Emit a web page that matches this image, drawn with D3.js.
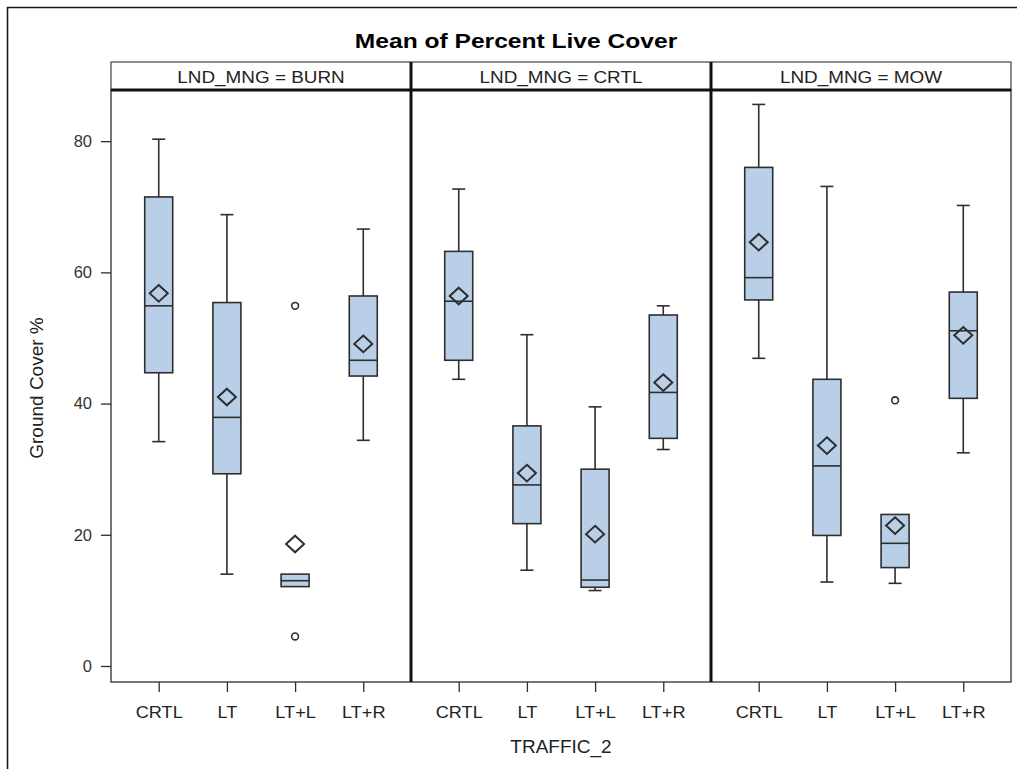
<!DOCTYPE html>
<html>
<head>
<meta charset="utf-8">
<script src="https://cdn.jsdelivr.net/npm/d3@7"></script>
<style>
  body { margin: 0; background: #fff; }
  svg { display: block; }
  text { font-family: "Liberation Sans", Arial, Helvetica, sans-serif; fill: #222; }
</style>
</head>
<body>
<svg id="chart" width="1017" height="769"></svg>
<script>
// Land management panels and traffic levels
const landMgmt = ["BURN", "CRTL", "MOW"];
const traffic = ["CRTL", "LT", "LT+L", "LT+R"];

// Box statistics, one entry per box, ordered BURN x4, CRTL x4, MOW x4
const whiskerLow  = [34.2, 14.0, 12.1, 34.4,  43.7, 14.6, 11.5, 33.0,  46.9, 12.8, 12.6, 32.5];
const q1          = [44.7, 29.3, 12.1, 44.2,  46.6, 21.7, 12.0, 34.7,  55.8, 19.9, 15.0, 40.8];
const median      = [54.9, 37.9, 13.0, 46.6,  55.6, 27.6, 13.1, 41.7,  59.2, 30.5, 18.7, 51.1];
const q3          = [71.5, 55.4, 14.0, 56.4,  63.2, 36.6, 30.0, 53.5,  76.0, 43.7, 23.1, 57.0];
const whiskerHigh = [80.3, 68.8, 14.0, 66.6,  72.7, 50.5, 39.5, 54.9,  85.6, 73.1, 23.1, 70.2];
const means       = [56.8, 41.0, 18.6, 49.1,  56.4, 29.4, 20.1, 43.2,  64.6, 33.6, 21.4, 50.4];

// Outlying observations
const outlierMgmt = ["BURN", "BURN", "MOW"];
const outlierTraffic = ["LT+L", "LT+L", "LT+L"];
const outlierValue = [54.9, 4.5, 40.5];

const yTicks = [0, 20, 40, 60, 80];
const yDomain = [-2.44, 87.8];

const boxes = whiskerLow.map((lo, i) => ({
  mgmt: landMgmt[Math.floor(i / traffic.length)],
  traffic: traffic[i % traffic.length],
  lo, q1: q1[i], med: median[i], q3: q3[i], hi: whiskerHigh[i], mean: means[i]
}));
const outliers = outlierValue.map((v, i) => ({ mgmt: outlierMgmt[i], traffic: outlierTraffic[i], v }));

const svg = d3.select("#chart");
const ink = "#2e2e2e";
const fill = "#b9cfe8";

const plot = { left: 111, right: 1011, top: 90, bottom: 682, headerTop: 62 };

const panelX = d3.scaleBand().domain(landMgmt).range([plot.left, plot.right]);
const innerX = d3.scalePoint().domain(traffic).range([0, panelX.bandwidth()]).padding(0.7);
const y = d3.scaleLinear().domain(yDomain).range([plot.bottom, plot.top]);

const boxW = 28, capW = 13;

// Outer border of the graph
svg.append("path")
  .attr("d", `M7.5,${769}V7.5H${1017}`)
  .attr("fill", "none").attr("stroke", "#1a1a1a").attr("stroke-width", 1.6);

// Title
svg.append("text")
  .attr("transform", "translate(516,48) scale(1.2,1)")
  .attr("text-anchor", "middle")
  .attr("font-size", 20.5).attr("font-weight", "bold").style("fill", "#000")
  .text("Mean of Percent Live Cover");

// Panel headers
const header = svg.append("g");
header.append("rect")
  .attr("x", plot.left).attr("y", plot.headerTop)
  .attr("width", plot.right - plot.left).attr("height", plot.top - plot.headerTop)
  .attr("fill", "#fff").attr("stroke", "#444").attr("stroke-width", 1.2);
header.selectAll("text").data(landMgmt).join("text")
  .attr("transform", d => `translate(${panelX(d) + panelX.bandwidth() / 2},83) scale(1.16,1)`)
  .attr("text-anchor", "middle").attr("font-size", 16.3)
  .text(d => `LND_MNG = ${d}`);

// Boxes
const panels = svg.selectAll("g.panel").data(landMgmt).join("g")
  .attr("class", "panel")
  .attr("transform", d => `translate(${panelX(d)},0)`);

const box = panels.selectAll("g.box")
  .data(m => boxes.filter(b => b.mgmt === m))
  .join("g").attr("class", "box")
  .attr("transform", d => `translate(${innerX(d.traffic)},0)`);

box.filter(d => d.hi > d.q3).append("line")
  .attr("y1", d => y(d.q3)).attr("y2", d => y(d.hi))
  .attr("stroke", ink).attr("stroke-width", 1.6);
box.filter(d => d.hi > d.q3).append("line")
  .attr("x1", -capW / 2).attr("x2", capW / 2)
  .attr("y1", d => y(d.hi)).attr("y2", d => y(d.hi))
  .attr("stroke", ink).attr("stroke-width", 1.6);
box.filter(d => d.lo < d.q1).append("line")
  .attr("y1", d => y(d.q1)).attr("y2", d => y(d.lo))
  .attr("stroke", ink).attr("stroke-width", 1.6);
box.filter(d => d.lo < d.q1).append("line")
  .attr("x1", -capW / 2).attr("x2", capW / 2)
  .attr("y1", d => y(d.lo)).attr("y2", d => y(d.lo))
  .attr("stroke", ink).attr("stroke-width", 1.6);

box.append("rect")
  .attr("x", -boxW / 2).attr("width", boxW)
  .attr("y", d => y(d.q3)).attr("height", d => y(d.q1) - y(d.q3))
  .attr("fill", fill).attr("stroke", ink).attr("stroke-width", 1.6);
box.append("line")
  .attr("x1", -boxW / 2).attr("x2", boxW / 2)
  .attr("y1", d => y(d.med)).attr("y2", d => y(d.med))
  .attr("stroke", ink).attr("stroke-width", 1.6);

// Mean markers (hollow diamonds)
const dw = 9, dh = 8.3;
box.append("path")
  .attr("d", d => {
    const c = y(d.mean);
    return `M0,${c - dh}L${dw},${c}L0,${c + dh}L${-dw},${c}Z`;
  })
  .attr("fill", "none").attr("stroke", ink).attr("stroke-width", 2);

// Outliers
panels.selectAll("circle.outlier")
  .data(m => outliers.filter(o => o.mgmt === m))
  .join("circle").attr("class", "outlier")
  .attr("cx", d => innerX(d.traffic)).attr("cy", d => y(d.v))
  .attr("r", 3.4).attr("fill", "none").attr("stroke", ink).attr("stroke-width", 1.6);

// Plot frame and panel dividers
svg.append("rect")
  .attr("x", plot.left).attr("y", plot.top)
  .attr("width", plot.right - plot.left).attr("height", plot.bottom - plot.top)
  .attr("fill", "none").attr("stroke", ink).attr("stroke-width", 1.3);
svg.append("line")
  .attr("x1", plot.left).attr("x2", plot.right).attr("y1", plot.top).attr("y2", plot.top)
  .attr("stroke", "#111").attr("stroke-width", 3);
svg.selectAll("line.divider").data(landMgmt.slice(1)).join("line")
  .attr("class", "divider")
  .attr("x1", d => panelX(d)).attr("x2", d => panelX(d))
  .attr("y1", plot.headerTop).attr("y2", plot.bottom)
  .attr("stroke", "#111").attr("stroke-width", 3);

// Y axis
const yAxis = svg.append("g")
  .attr("transform", `translate(${plot.left},0)`)
  .call(d3.axisLeft(y).tickValues(yTicks).tickSize(10).tickPadding(9));
yAxis.select(".domain").remove();
yAxis.selectAll("line").attr("stroke", ink).attr("stroke-width", 1.3);
yAxis.selectAll("text")
  .attr("font-size", 16.5).style("fill", "#333")
  .attr("font-family", null);

// X axes, one per panel
panels.each(function () {
  const ax = d3.select(this).append("g")
    .attr("transform", `translate(0,${plot.bottom})`)
    .call(d3.axisBottom(innerX).tickSize(10).tickPadding(14));
  ax.select(".domain").remove();
  ax.selectAll("line").attr("stroke", ink).attr("stroke-width", 1.3);
  ax.selectAll("text")
    .attr("font-size", 16.5).attr("font-family", null).style("fill", "#222")
    .attr("transform", "scale(1.1,1)");
});

// Axis titles
svg.append("text")
  .attr("transform", `translate(${(plot.left + plot.right) / 2},753)`)
  .attr("text-anchor", "middle").attr("font-size", 19)
  .text("TRAFFIC_2");
svg.append("text")
  .attr("transform", "translate(43,388) rotate(-90)")
  .attr("text-anchor", "middle").attr("font-size", 19)
  .text("Ground Cover %");
</script>
</body>
</html>
